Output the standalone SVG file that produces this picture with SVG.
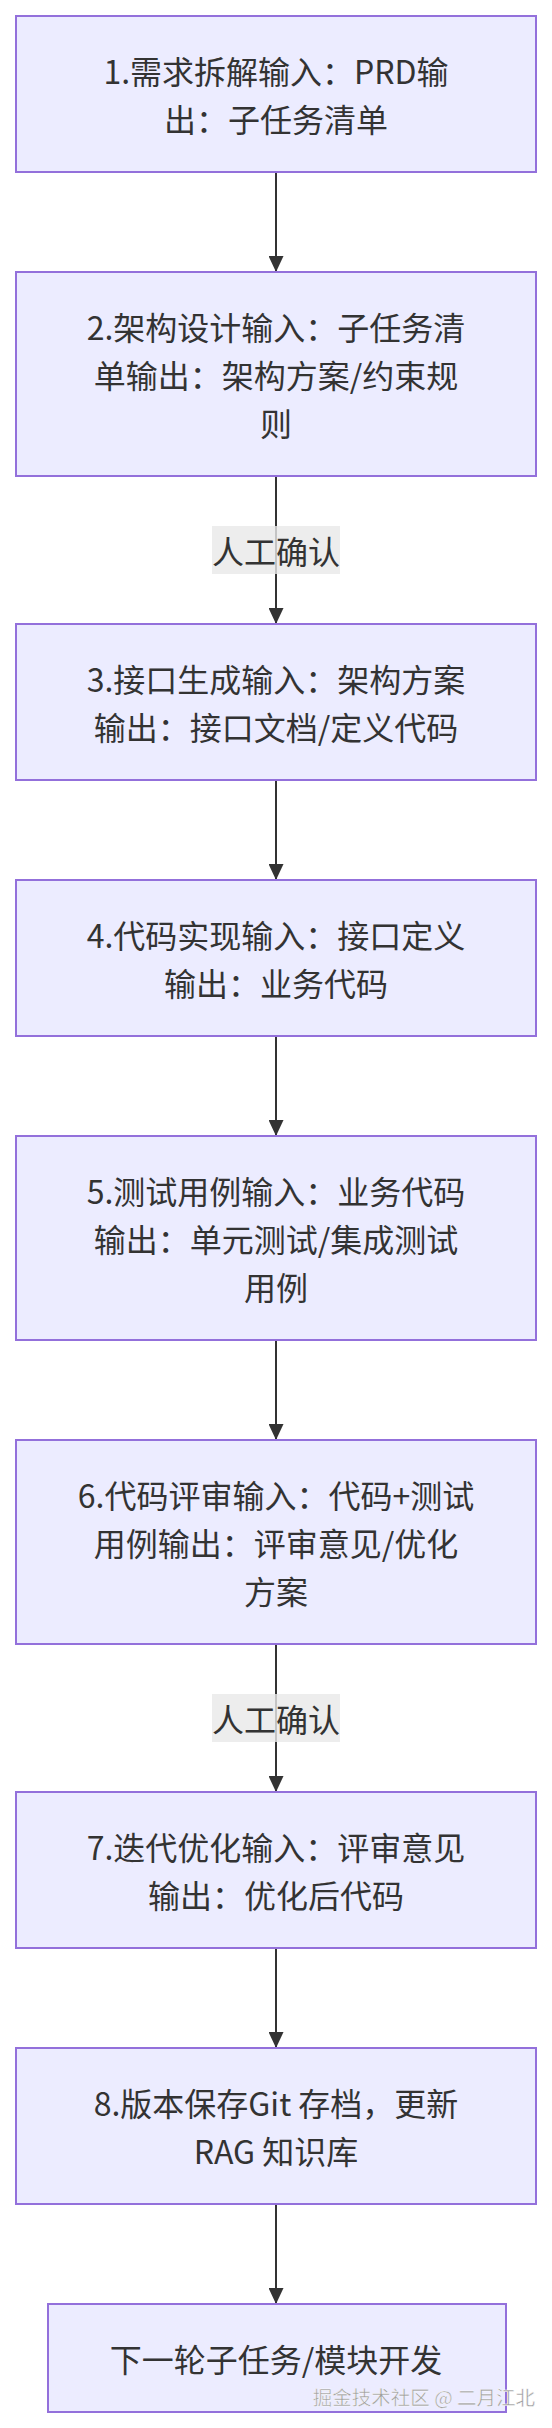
<svg xmlns="http://www.w3.org/2000/svg" width="552" height="2428" viewBox="0 0 552 2428">
<style>
.node rect{fill:#ECECFF;stroke:#9370DB;stroke-width:2}
.node text{font-family:"Noto Sans CJK SC","Noto Sans",sans-serif;font-size:32px;fill:#333;text-anchor:middle;dominant-baseline:central}
.edge{stroke:#333;stroke-width:2;fill:none}
.lbl rect{fill:#e8e8e8;fill-opacity:0.8}
.lbl text{font-family:"Noto Sans CJK SC","Noto Sans",sans-serif;font-size:32px;fill:#333;text-anchor:middle;dominant-baseline:central}
.wm{font-family:"Noto Sans CJK SC",sans-serif;font-size:19.5px;fill:#9c9c9c;stroke:#ffffff;stroke-width:0.4;text-anchor:end}
</style>
<defs>
<marker id="arr" viewBox="0 0 16 15" refX="16" refY="7.5" markerWidth="16" markerHeight="15" markerUnits="userSpaceOnUse" orient="auto">
<path d="M0,0 L16,7.5 L0,15 z" fill="#333"/>
</marker>
</defs>
<rect width="552" height="2428" fill="#ffffff"/>
<g id="edges">
<line class="edge" x1="276" y1="172" x2="276" y2="272" marker-end="url(#arr)"/>
<line class="edge" x1="276" y1="476" x2="276" y2="624" marker-end="url(#arr)"/>
<line class="edge" x1="276" y1="780" x2="276" y2="880" marker-end="url(#arr)"/>
<line class="edge" x1="276" y1="1036" x2="276" y2="1136" marker-end="url(#arr)"/>
<line class="edge" x1="276" y1="1340" x2="276" y2="1440" marker-end="url(#arr)"/>
<line class="edge" x1="276" y1="1644" x2="276" y2="1792" marker-end="url(#arr)"/>
<line class="edge" x1="276" y1="1948" x2="276" y2="2048" marker-end="url(#arr)"/>
<line class="edge" x1="276" y1="2204" x2="276" y2="2304" marker-end="url(#arr)"/>
<g class="lbl"><rect x="212" y="526" width="128" height="48"/><text x="276" y="550">人工确认</text></g>
<g class="lbl"><rect x="212" y="1694" width="128" height="48"/><text x="276" y="1718">人工确认</text></g>
</g>
<g id="n1" class="node"><rect x="16" y="16" width="520" height="156"/><text x="276" y="70">1.需求拆解输入：PRD输</text><text x="276" y="118">出：子任务清单</text></g>
<g id="n2" class="node"><rect x="16" y="272" width="520" height="204"/><text x="276" y="326">2.架构设计输入：子任务清</text><text x="276" y="374">单输出：架构方案/约束规</text><text x="276" y="422">则</text></g>
<g id="n3" class="node"><rect x="16" y="624" width="520" height="156"/><text x="276" y="678">3.接口生成输入：架构方案</text><text x="276" y="726">输出：接口文档/定义代码</text></g>
<g id="n4" class="node"><rect x="16" y="880" width="520" height="156"/><text x="276" y="934">4.代码实现输入：接口定义</text><text x="276" y="982">输出：业务代码</text></g>
<g id="n5" class="node"><rect x="16" y="1136" width="520" height="204"/><text x="276" y="1190">5.测试用例输入：业务代码</text><text x="276" y="1238">输出：单元测试/集成测试</text><text x="276" y="1286">用例</text></g>
<g id="n6" class="node"><rect x="16" y="1440" width="520" height="204"/><text x="276" y="1494">6.代码评审输入：代码+测试</text><text x="276" y="1542">用例输出：评审意见/优化</text><text x="276" y="1590">方案</text></g>
<g id="n7" class="node"><rect x="16" y="1792" width="520" height="156"/><text x="276" y="1846">7.迭代优化输入：评审意见</text><text x="276" y="1894">输出：优化后代码</text></g>
<g id="n8" class="node"><rect x="16" y="2048" width="520" height="156"/><text x="276" y="2102">8.版本保存Git 存档，更新</text><text x="276" y="2150">RAG 知识库</text></g>
<g id="n9" class="node"><rect x="48" y="2304" width="458" height="108"/><text x="276" y="2358">下一轮子任务/模块开发</text></g>
<text class="wm" x="535" y="2405">掘金技术社区 @ 二月江北</text>
</svg>
